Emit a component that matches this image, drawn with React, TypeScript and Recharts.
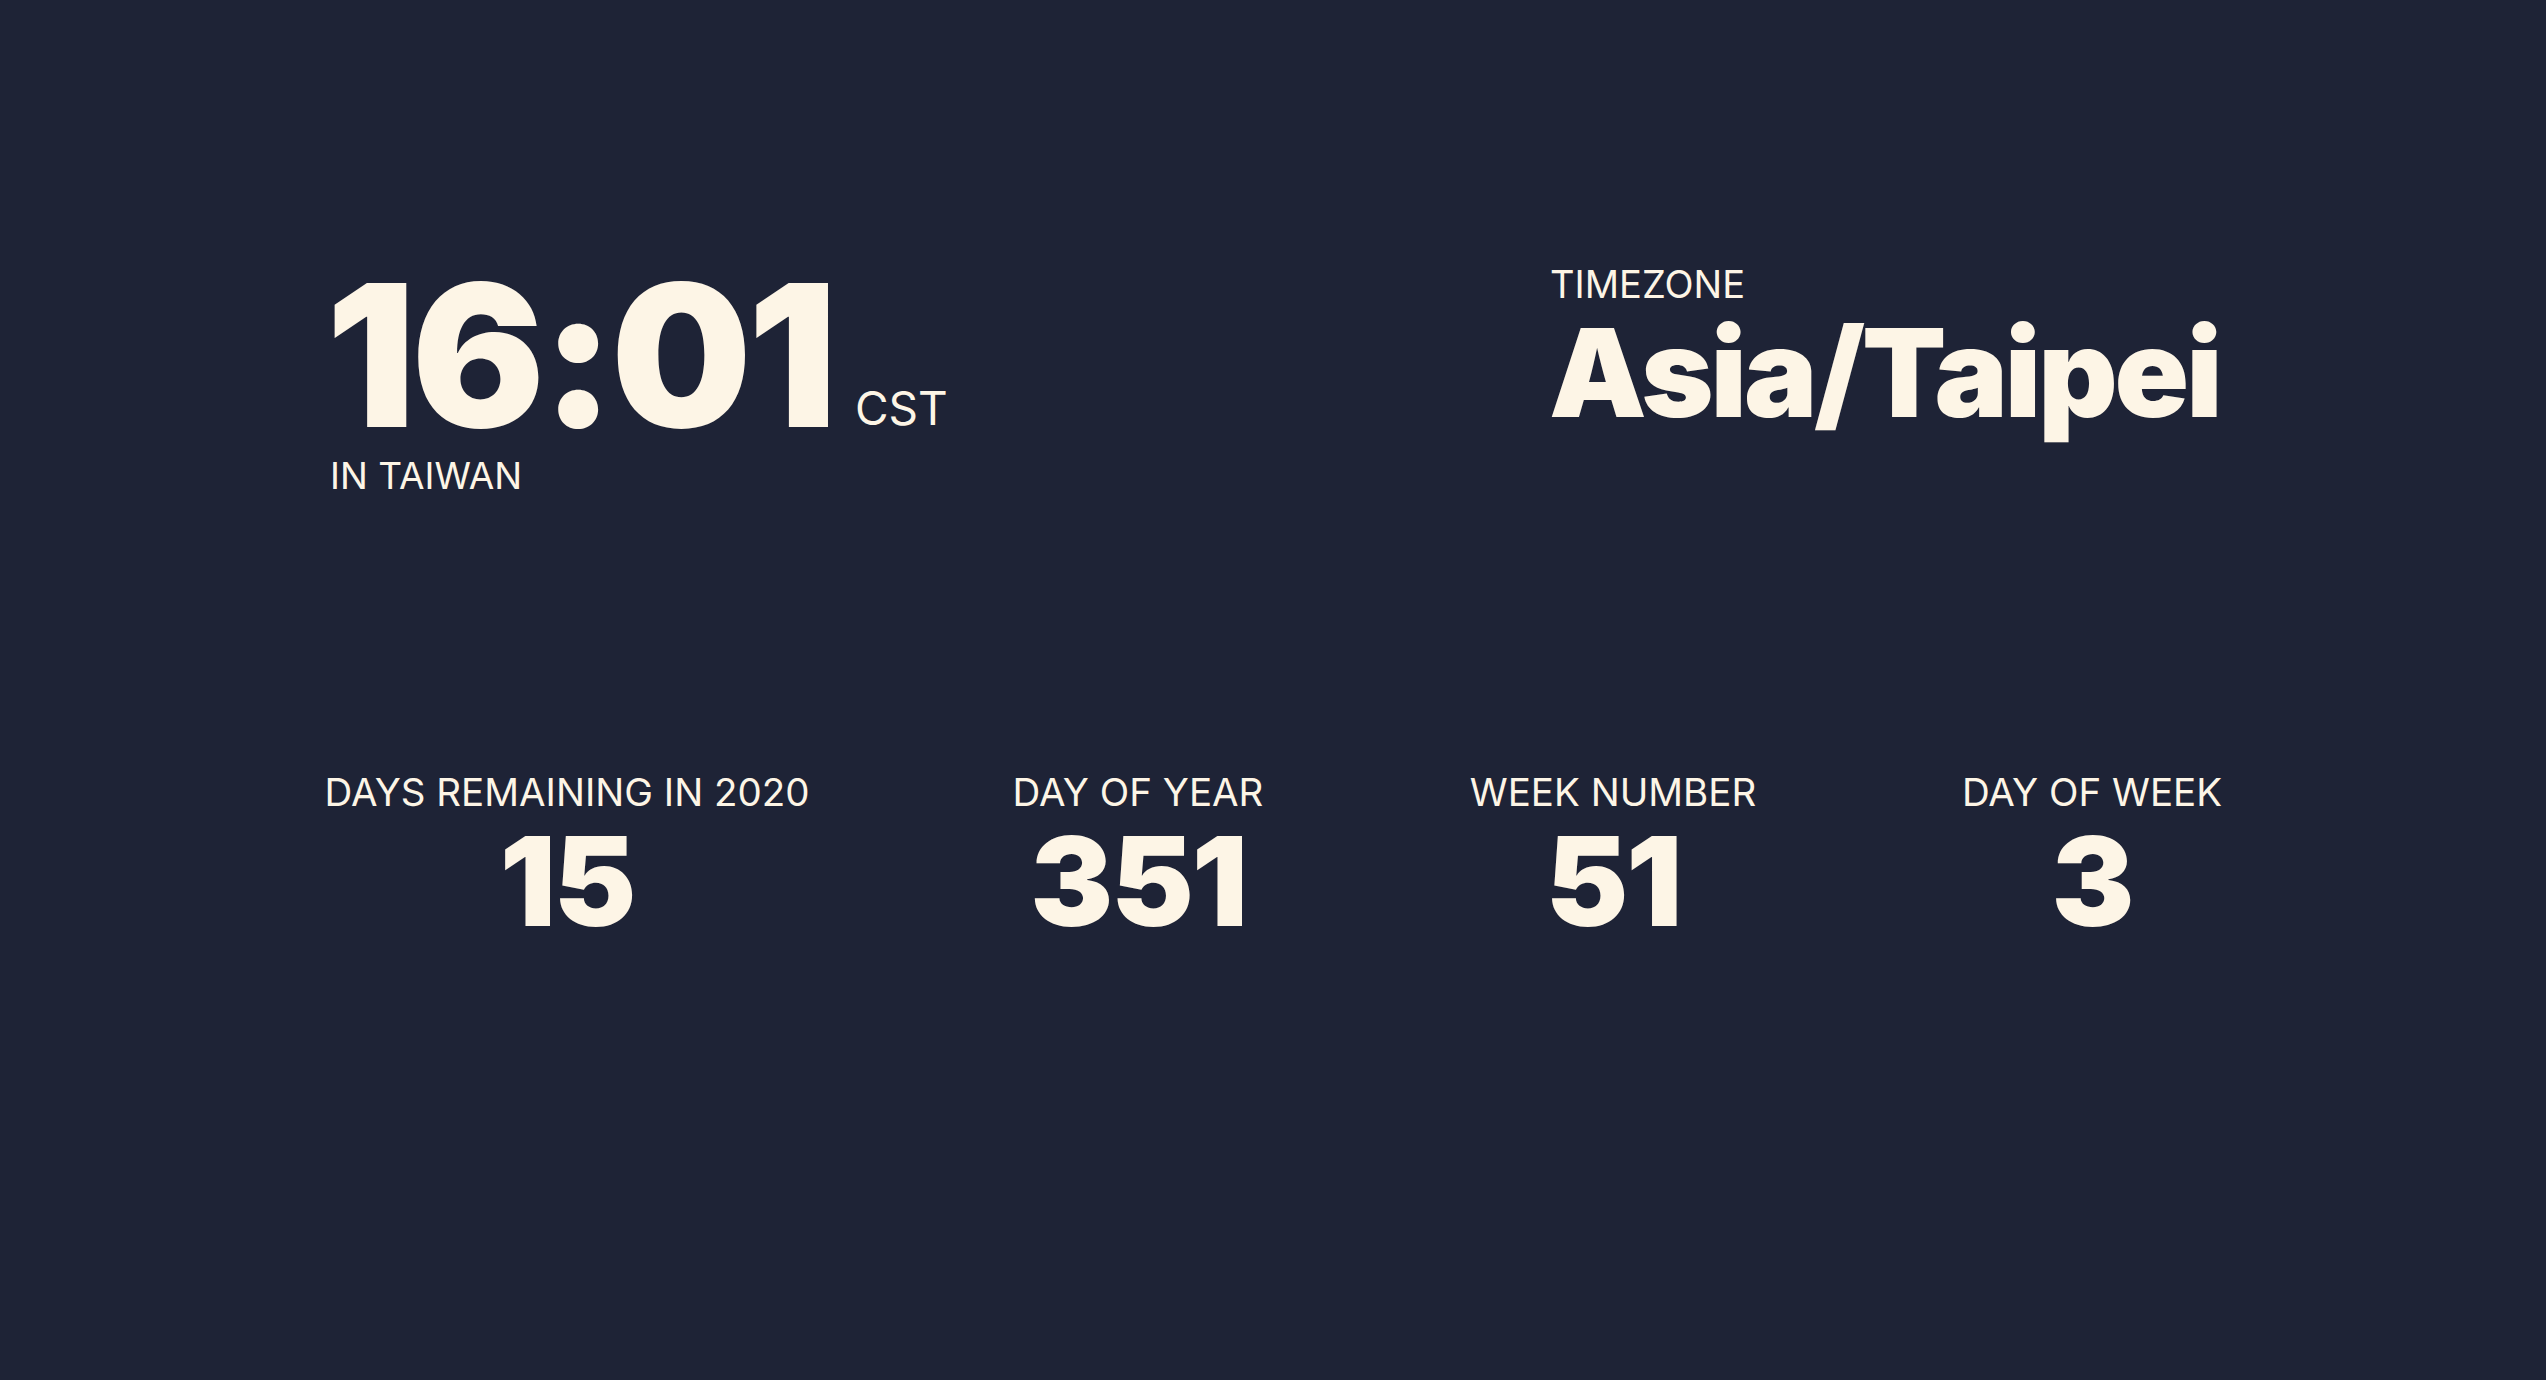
import { ComposedChart, Customized } from 'recharts';

const BG = '#1e2336';
const FG = '#fdf5e6';
const FONT = 'Inter, "Noto Sans", sans-serif';

const clockTime = '16:01';
const clockZone = 'CST';
const clockPlace = 'IN TAIWAN';
const tzLabel = 'TIMEZONE';
const tzName = 'Asia/Taipei';

const statLabels = ['DAYS REMAINING IN 2020', 'DAY OF YEAR', 'WEEK NUMBER', 'DAY OF WEEK'];
const statValues = [15, 351, 51, 3];
const statCenters = [567, 1138, 1613, 2092];

const W = 2546;
const H = 1380;

function Board() {
  return (
    <g fontFamily={FONT} fill={FG}>
      <text x={326} y={427} fontSize={198} fontWeight={900} letterSpacing={-4}>{clockTime}</text>
      <text x={855} y={425} fontSize={46} fontWeight={400}>{clockZone}</text>
      <text x={330} y={489} fontSize={37} fontWeight={400}>{clockPlace}</text>
      <text x={1550} y={298} fontSize={38} fontWeight={400}>{tzLabel}</text>
      <text x={1549} y={417} fontSize={123} fontWeight={900} letterSpacing={-3}>{tzName}</text>
      {statLabels.map((l, i) => (
        <g key={l}>
          <text x={statCenters[i]} y={806} fontSize={38.5} textAnchor="middle">{l}</text>
          <text x={statCenters[i]} y={926} fontSize={124} fontWeight={900} textAnchor="middle" letterSpacing={-2}>
            {statValues[i]}
          </text>
        </g>
      ))}
    </g>
  );
}

export default function App() {
  return (
    <div style={{ position: 'fixed', inset: 0, background: BG }}>
      <ComposedChart width={W} height={H} data={[]} margin={{ top: 0, right: 0, bottom: 0, left: 0 }}>
        <Customized component={Board} />
      </ComposedChart>
    </div>
  );
}
